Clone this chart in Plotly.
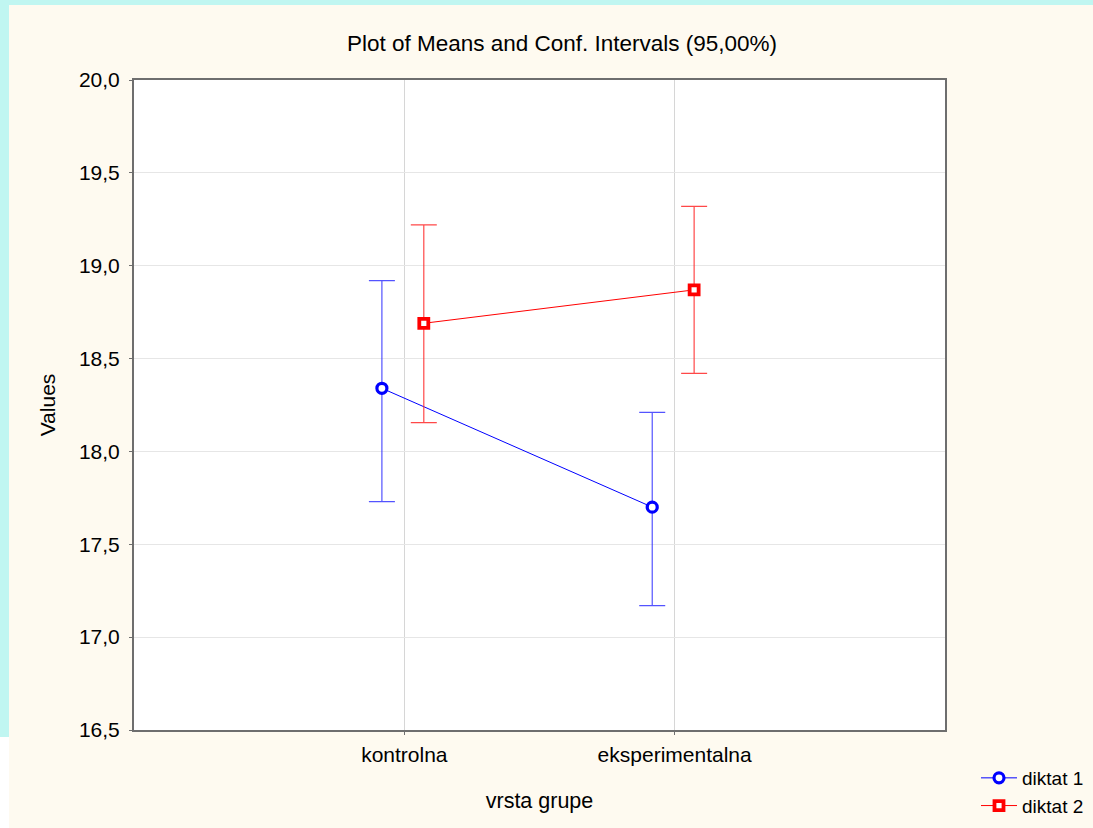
import plotly.graph_objects as go

# ---- data ----
categories = ["kontrolna", "eksperimentalna"]
series_names = ["diktat 1", "diktat 2"]
diktat1_mean = [18.34, 17.70]
diktat1_upper = [18.92, 18.21]
diktat1_lower = [17.73, 17.17]
diktat2_mean = [18.69, 18.87]
diktat2_upper = [19.22, 19.32]
diktat2_lower = [18.155, 18.42]
y_ticks = [16.5, 17.0, 17.5, 18.0, 18.5, 19.0, 19.5, 20.0]
y_ticklabels = ["16,5", "17,0", "17,5", "18,0", "18,5", "19,0", "19,5", "20,0"]

# ---- style ----
FONT = "Liberation Sans, Arial, sans-serif"
CREAM = "#FEFAF0"
CYAN = "#C0F6F1"
dodge = {"diktat 1": -0.083, "diktat 2": 0.072}

W, H = 1093, 828
L, R, T, B = 134, 148, 80, 98
PW, PH = W - L - R, H - T - B

def px_x(p):
    return (p - L) / PW

def px_y(p):
    return (H - B - p) / PH

fig = go.Figure()

specs = [
    ("diktat 1", diktat1_mean, diktat1_upper, diktat1_lower, "#0000FF", "rgba(40,40,255,0.8)",
     dict(symbol="circle", size=10, color="white", line=dict(color="#0000FF", width=3.2))),
    ("diktat 2", diktat2_mean, diktat2_upper, diktat2_lower, "#FF0000", "rgba(255,40,40,0.85)",
     dict(symbol="square", size=9, color="white", line=dict(color="#FF0000", width=3.8))),
]
for name, mean, up, lo, col, ecol, mk in specs:
    xs = [i + dodge[name] for i in range(len(categories))]
    fig.add_trace(go.Scatter(
        x=xs, y=mean, name=name, mode="lines+markers",
        line=dict(color=col, width=1),
        marker=mk,
        error_y=dict(type="data", symmetric=False,
                     array=[u - m for u, m in zip(up, mean)],
                     arrayminus=[m - l for m, l in zip(mean, lo)],
                     color=ecol, thickness=1.2, width=13),
    ))

shapes = [
    # cyan top strip
    dict(type="rect", xref="paper", yref="paper", x0=px_x(0), x1=px_x(W + 5), y0=px_y(5), y1=px_y(-5),
         fillcolor=CYAN, line=dict(width=0), layer="below"),
    # cyan left strip
    dict(type="rect", xref="paper", yref="paper", x0=px_x(-5), x1=px_x(9), y0=px_y(737), y1=px_y(0),
         fillcolor=CYAN, line=dict(width=0), layer="below"),
    # white bottom-left
    dict(type="rect", xref="paper", yref="paper", x0=px_x(-5), x1=px_x(9), y0=px_y(H + 5), y1=px_y(737),
         fillcolor="white", line=dict(width=0), layer="below"),
]

fig.update_layout(
    width=W, height=H,
    margin=dict(l=L, r=R, t=T, b=B, autoexpand=False),
    paper_bgcolor=CREAM, plot_bgcolor="white",
    font=dict(family=FONT, size=21, color="black"),
    title=dict(text="Plot of Means and Conf. Intervals (95,00%)", x=562 / W, xanchor="center",
               xref="container", y=1 - 43 / H, yanchor="middle", yref="container",
               font=dict(family=FONT, size=22.5, color="black")),
    shapes=shapes,
    showlegend=True,
    legend=dict(x=px_x(976), y=px_y(759), xanchor="left", yanchor="top",
                bgcolor="rgba(0,0,0,0)", font=dict(family=FONT, size=19, color="black"),
                tracegroupgap=0, itemwidth=36),
    xaxis=dict(range=[-1, 2], tickvals=list(range(len(categories))), ticktext=categories,
               showgrid=True, gridcolor="#D6D6D6", gridwidth=1, automargin=False,
               showline=True, linecolor="#6E6E6E", linewidth=2, mirror=True,
               ticks="outside", ticklen=3, tickcolor="#6E6E6E",
               zeroline=False, ticklabelstandoff=2,
               title=dict(text="vrsta grupe", standoff=28, font=dict(size=21.5))),
    yaxis=dict(range=[16.5, 20.0], tickvals=y_ticks, ticktext=y_ticklabels,
               showgrid=True, gridcolor="#E6E6E6", gridwidth=1, automargin=False,
               showline=True, linecolor="#6E6E6E", linewidth=2, mirror=True,
               ticks="outside", ticklen=3, tickcolor="#6E6E6E",
               zeroline=False, ticklabelstandoff=5,
               title=dict(text="Values", standoff=18, font=dict(size=21))),
)

fig.write_html("out.html")
